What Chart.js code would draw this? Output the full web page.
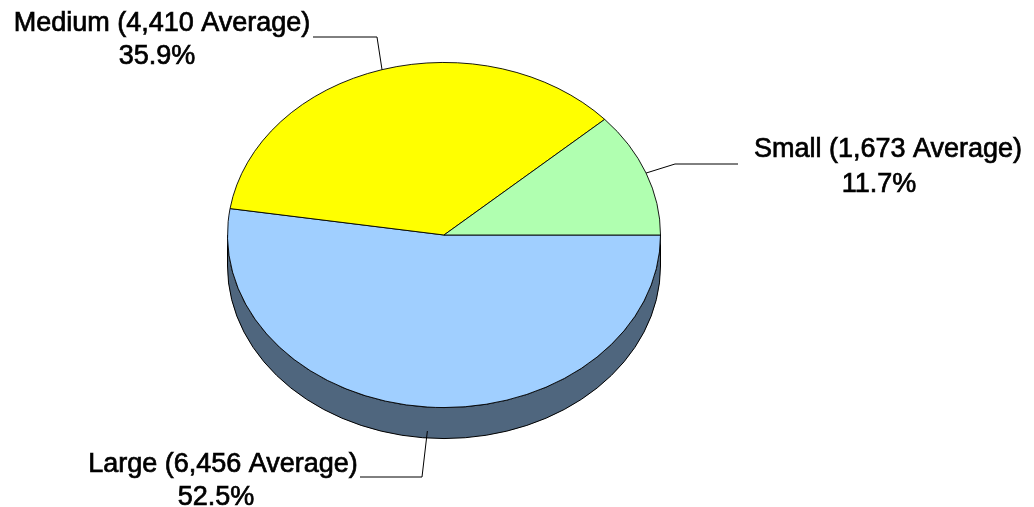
<!DOCTYPE html>
<html>
<head>
<meta charset="utf-8">
<script src="https://cdn.jsdelivr.net/npm/chart.js@4.4.1/dist/chart.umd.min.js"></script>
<style>
html,body{margin:0;padding:0;background:#fff;}
#wrap{position:relative;width:1034px;height:507px;}
</style>
</head>
<body>
<div id="wrap"><canvas id="c"></canvas></div>
<script>
// ---- data ----
const categories = ['Large', 'Medium', 'Small'];
const averages = ['6,456', '4,410', '1,673'];
const shares = [52.5, 35.9, 11.7];

// ---- styles ----
const topColors = ['#A0CFFF', '#FFFF00', '#B0FFB0'];
const sideColors = ['#4F667E', '#8A8A00', '#5F8A5F'];
const TILT = 0.797;
const DEPTH = 31;
const FONT = '27px "Liberation Sans", Arial, sans-serif';

// label layout: elbow / end of leader, text centres and baselines
const labelLayout = [
  { drop: 24, elbow: [422, 477], end: [360, 477], lines: [[223, 472], [216, 505]] },
  { drop: 0, elbow: [377, 37], end: [313, 37], lines: [[162, 31], [157, 64]] },
  { drop: 0, elbow: [675, 164], end: [738, 164], lines: [[888, 157], [879, 192]] }
];

const pie3d = {
  id: 'pie3d',
  beforeDatasetsDraw(chart) {
    const ctx = chart.ctx;
    const arcs = chart.getDatasetMeta(0).data;
    const a0 = arcs[0];
    const cx = a0.x, cy = a0.y, r = a0.outerRadius, ry = r * TILT;
    // side walls (front half only)
    arcs.forEach((arc, i) => {
      const s = arc.startAngle, e = arc.endAngle;
      [0, 2 * Math.PI, -2 * Math.PI].forEach(off => {
        const ss = Math.max(s + off, 0), ee = Math.min(e + off, Math.PI);
        if (ee > ss) {
          ctx.save();
          ctx.beginPath();
          ctx.ellipse(cx, cy, r, ry, 0, ss, ee, false);
          ctx.lineTo(cx + r * Math.cos(ee), cy + ry * Math.sin(ee) + DEPTH);
          ctx.ellipse(cx, cy + DEPTH, r, ry, 0, ee, ss, true);
          ctx.closePath();
          ctx.fillStyle = sideColors[i];
          ctx.fill();
          ctx.lineWidth = 1;
          ctx.strokeStyle = '#000';
          ctx.stroke();
          ctx.restore();
        }
      });
    });
    ctx.save();
    ctx.translate(cx, cy);
    ctx.scale(1, TILT);
    ctx.translate(-cx, -cy);
  },
  afterDatasetsDraw(chart) {
    const ctx = chart.ctx;
    ctx.restore();
    const arcs = chart.getDatasetMeta(0).data;
    ctx.save();
    ctx.strokeStyle = '#000';
    ctx.lineWidth = 1;
    ctx.fillStyle = '#000';
    ctx.font = FONT;
    ctx.textAlign = 'center';
    ctx.textBaseline = 'alphabetic';
    arcs.forEach((arc, i) => {
      const L = labelLayout[i];
      const mid = (arc.startAngle + arc.endAngle) / 2;
      const ax = arc.x + arc.outerRadius * Math.cos(mid);
      const ay = arc.y + arc.outerRadius * TILT * Math.sin(mid) + L.drop;
      ctx.lineWidth = 1;
      ctx.beginPath();
      ctx.moveTo(ax, ay);
      ctx.lineTo(L.elbow[0], L.elbow[1]);
      ctx.lineTo(L.end[0], L.end[1]);
      ctx.stroke();
      const t1 = categories[i] + ' (' + averages[i] + ' Average)';
      const t2 = shares[i].toFixed(1) + '%';
      ctx.lineWidth = 0.7;
      ctx.fillText(t1, L.lines[0][0], L.lines[0][1]);
      ctx.strokeText(t1, L.lines[0][0], L.lines[0][1]);
      ctx.fillText(t2, L.lines[1][0], L.lines[1][1]);
      ctx.strokeText(t2, L.lines[1][0], L.lines[1][1]);
    });
    ctx.restore();
  }
};

new Chart(document.getElementById('c'), {
  type: 'pie',
  data: {
    labels: categories,
    datasets: [{
      data: shares,
      backgroundColor: topColors,
      borderColor: '#000',
      borderWidth: 1
    }]
  },
  options: {
    responsive: true,
    maintainAspectRatio: false,
    animation: false,
    rotation: 90,
    layout: { padding: { left: 227, right: 373, top: 18, bottom: 55 } },
    plugins: { legend: { display: false }, tooltip: { enabled: false } },
    events: []
  },
  plugins: [pie3d]
});
</script>
</body>
</html>
